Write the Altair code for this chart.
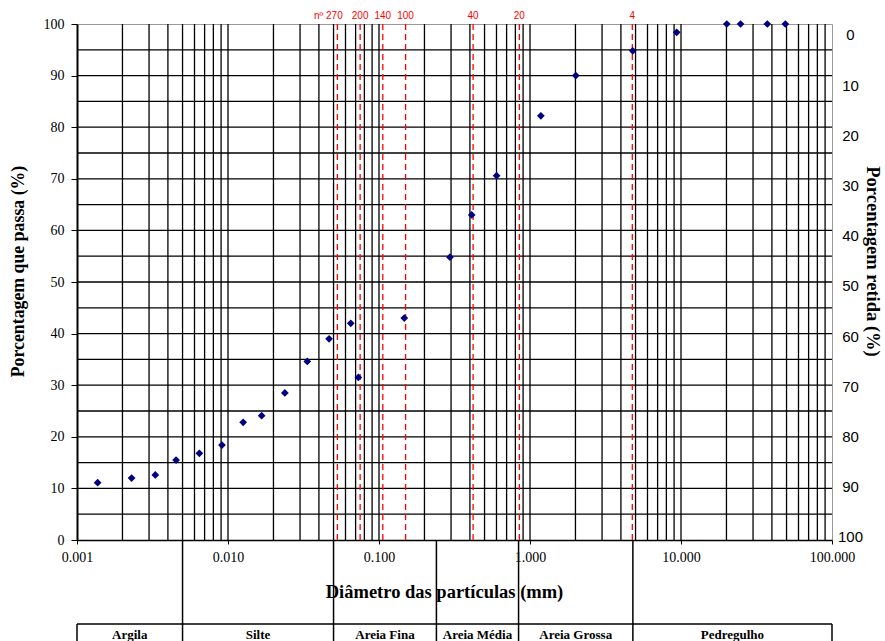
import altair as alt
import pandas as pd

# ---- data ----
diametro = [0.00137, 0.0023, 0.0033, 0.00453, 0.00646, 0.00912, 0.0126, 0.0167,
            0.0238, 0.0335, 0.0467, 0.065, 0.073, 0.147, 0.295, 0.411, 0.601,
            1.18, 2.01, 4.79, 9.36, 20.1, 24.8, 37.3, 49.1]
passa = [11.1, 12.0, 12.6, 15.5, 16.8, 18.4, 22.8, 24.1, 28.5, 34.6, 39.0, 42.0,
         31.5, 43.0, 54.8, 63.0, 70.6, 82.2, 90.0, 94.8, 98.4, 100, 100, 100, 100]

peneira_rotulo = ["nº 270", "200", "140", "100", "40", "20", "4"]
peneira_abertura = [0.053, 0.075, 0.106, 0.15, 0.42, 0.85, 4.76]

classe_nome = ["Argila", "Silte", "Areia Fina", "Areia Média", "Areia Grossa", "Pedregulho"]
classe_limites = [0.001, 0.005, 0.05, 0.24, 0.84, 4.8, 100]

x_ticks = [0.001, 0.01, 0.1, 1, 10, 100]
y_ticks = list(range(0, 101, 10))
x_grid = [m * 10.0 ** k for k in range(-3, 2) for m in range(1, 10)][1:]
y_grid = list(range(5, 100, 5))

# ---- tables ----
df = pd.DataFrame({"diametro": diametro, "passa": passa})
df["retida"] = 100 - df["passa"]
df_sieve = pd.DataFrame({"rotulo": peneira_rotulo, "abertura": peneira_abertura})
df_cls = pd.DataFrame({"nome": classe_nome, "lo": classe_limites[:-1], "hi": classe_limites[1:]})
df_inner = pd.DataFrame({"lim": classe_limites[1:-1]})
df_outer = pd.DataFrame({"lim": [classe_limites[0], classe_limites[-1]]})
df_top = pd.DataFrame({"a": [classe_limites[0]], "b": [classe_limites[-1]]})
df_vg = pd.DataFrame({"g": x_grid})
df_hg = pd.DataFrame({"g": y_grid})

SERIF = "Liberation Serif"
SANS = "Liberation Sans"

xs = alt.Scale(type="log", domain=[0.001, 100], nice=False)
ys = alt.Scale(domain=[0, 100], nice=False, zero=False)

x_axis = alt.Axis(
    orient="bottom", values=x_ticks, format=".3f", grid=False, tickSize=4, tickColor="black",
    domainColor="black", domainWidth=1.5, labelFont=SERIF, labelFontSize=14, labelColor="black",
    labelPadding=6, labelFlush=False, labelOverlap=False,
    title="Diâmetro das partículas (mm)", titleFont=SERIF, titleFontSize=18.5, titleFontWeight="bold",
    titleColor="black", titleX=367, titleY=51, titleBaseline="middle", titleAlign="center")

y_axis = alt.Axis(
    orient="left", values=y_ticks, grid=False, tickSize=6, tickColor="black", domainColor="black",
    domainWidth=2, labelFont=SERIF, labelFontSize=14, labelColor="black", labelPadding=7,
    title="Porcentagem que passa (%)", titleFont=SERIF, titleFontSize=17.8, titleFontWeight="bold",
    titleColor="black", titleAngle=270, titleX=-59, titleY=247, titleBaseline="middle",
    titleAlign="center")

r_axis = alt.Axis(
    orient="right", values=y_ticks, ticks=False, domain=False, grid=False,
    labelAlign="center", labelPadding=18, labelFont=SANS, labelFontSize=15,
    labelColor="black", labelBaseline="middle",
    title="Porcentagem retida (%)", titleFont=SERIF, titleFontSize=18.5,
    titleFontWeight="bold", titleColor="black", titleAngle=90, titleX=40,
    titleY=237, titleBaseline="middle", titleAlign="center")


def X(field):
    return alt.X(field, scale=xs, axis=x_axis)


vgrid = alt.Chart(df_vg).mark_rule(color="black", strokeWidth=1.3).encode(x=X("g:Q"))
hgrid = alt.Chart(df_hg).mark_rule(color="black", strokeWidth=1.3).encode(
    y=alt.Y("g:Q", scale=ys, axis=y_axis))

sieve_rules = alt.Chart(df_sieve).mark_rule(color="#ff0000", strokeWidth=1.3, strokeDash=[6, 4]).encode(
    x=X("abertura:Q"))

sieve_txt = alt.Chart(df_sieve).transform_filter("datum.rotulo != 'nº 270'").mark_text(
    font=SANS, fontSize=10, color="#ff0000", baseline="middle", align="center").encode(
    x=X("abertura:Q"), y=alt.value(-8), text="rotulo:N")
sieve_txt0 = alt.Chart(df_sieve).transform_filter("datum.rotulo == 'nº 270'").mark_text(
    font=SANS, fontSize=10, color="#ff0000", baseline="middle", align="center", dx=-9).encode(
    x=X("abertura:Q"), y=alt.value(-8), text="rotulo:N")

points = alt.Chart(df).mark_point(shape="diamond", filled=True, size=60, color="#000080", opacity=1).encode(
    x=X("diametro:Q"),
    y=alt.Y("passa:Q", scale=ys, axis=y_axis),
)

inner = alt.Chart(df_inner).mark_rule(color="black", strokeWidth=1.5).encode(
    x=X("lim:Q"), y=alt.value(516), y2=alt.value(630))
outer = alt.Chart(df_outer).mark_rule(color="black", strokeWidth=1.5).encode(
    x=X("lim:Q"), y=alt.value(600), y2=alt.value(630))
topline = alt.Chart(df_top).mark_rule(color="black", strokeWidth=1.5).encode(
    x=X("a:Q"), x2="b:Q", y=alt.value(600))
cls_txt = alt.Chart(df_cls).transform_calculate(c="sqrt(datum.lo*datum.hi)").mark_text(
    font=SERIF, fontSize=13, fontWeight="bold", color="black", baseline="alphabetic", align="center").encode(
    x=X("c:Q"), y=alt.value(615), text="nome:N")

main = alt.layer(vgrid, hgrid, sieve_rules, points, sieve_txt, sieve_txt0, inner, outer, topline, cls_txt)

right = alt.Chart(df).mark_point(opacity=0).encode(
    x=X("diametro:Q"),
    y=alt.Y("retida:Q", scale=alt.Scale(domain=[-2.19, 100.6], reverse=True, nice=False, zero=False),
            axis=r_axis),
)

chart = alt.layer(main, right).resolve_scale(y="independent").properties(
    width=755, height=516,
    autosize=alt.AutoSizeParams(type="none"),
    padding={"left": 77, "top": 24, "right": 53, "bottom": 101},
    background="white",
).configure_view(stroke="#999999", strokeWidth=1)

chart.save("out.html", embed_options={"renderer": "svg", "actions": False})
